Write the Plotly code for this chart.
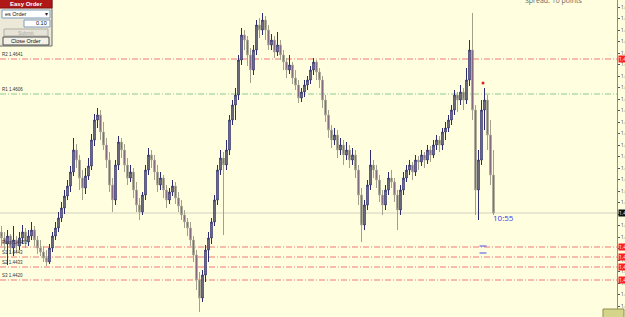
import plotly.graph_objects as go

# ---- data (prices) ----
opens = [1.4468,1.4462,1.4456,1.4464,1.4452,1.4460,1.4454,1.4462,1.4468,1.4458,
1.4464,1.4470,1.4460,1.4452,1.4448,1.4442,1.4438,1.4452,1.4464,1.4472,
1.4482,1.4492,1.4504,1.4514,1.4528,1.4550,1.4540,1.4522,1.4512,1.4524,
1.4534,1.4560,1.4580,1.4585,1.4568,1.4555,1.4540,1.4515,1.4500,1.4535,
1.4558,1.4550,1.4535,1.4522,1.4528,1.4510,1.4495,1.4488,1.4505,1.4530,
1.4545,1.4540,1.4528,1.4515,1.4522,1.4510,1.4500,1.4508,1.4514,1.4502,
1.4494,1.4485,1.4478,1.4472,1.4460,1.4445,1.4420,1.4402,1.4425,1.4450,
1.4462,1.4478,1.4500,1.4530,1.4542,1.4535,1.4550,1.4580,1.4595,1.4605,
1.4640,1.4665,1.4660,1.4645,1.4630,1.4650,1.4675,1.4670,1.4680,1.4670,
1.4655,1.4660,1.4648,1.4655,1.4645,1.4638,1.4630,1.4635,1.4622,1.4615,
1.4602,1.4608,1.4615,1.4620,1.4630,1.4638,1.4628,1.4620,1.4600,1.4585,
1.4570,1.4560,1.4565,1.4550,1.4555,1.4545,1.4550,1.4540,1.4545,1.4530,
1.4505,1.4475,1.4495,1.4515,1.4535,1.4530,1.4520,1.4505,1.4495,1.4510,
1.4522,1.4518,1.4505,1.4490,1.4510,1.4522,1.4530,1.4535,1.4528,1.4540,
1.4538,1.4545,1.4540,1.4550,1.4545,1.4555,1.4560,1.4555,1.4568,1.4572,
1.4580,1.4590,1.4605,1.4600,1.4608,1.4600,1.4620,1.4650,1.4590,1.4510,
1.4540,1.4590,1.4600,1.4565,1.4525]
highs = [1.4474,1.4468,1.4470,1.4466,1.4474,1.4464,1.4468,1.4475,1.4472,1.4470,
1.4478,1.4474,1.4464,1.4460,1.4454,1.4450,1.4456,1.4468,1.4478,1.4488,
1.4498,1.4510,1.4520,1.4534,1.4562,1.4556,1.4545,1.4530,1.4532,1.4542,
1.4566,1.4586,1.4592,1.4590,1.4578,1.4562,1.4548,1.4522,1.4540,1.4564,
1.4562,1.4556,1.4542,1.4535,1.4532,1.4518,1.4502,1.4508,1.4535,1.4552,
1.4550,1.4545,1.4535,1.4528,1.4525,1.4515,1.4512,1.4520,1.4518,1.4508,
1.4500,1.4490,1.4482,1.4478,1.4464,1.4450,1.4428,1.4430,1.4455,1.4468,
1.4482,1.4505,1.4535,1.4550,1.4548,1.4560,1.4585,1.4600,1.4612,1.4645,
1.4672,1.4670,1.4664,1.4652,1.4655,1.4680,1.4682,1.4687,1.4684,1.4675,
1.4666,1.4664,1.4668,1.4660,1.4650,1.4642,1.4645,1.4638,1.4630,1.4620,
1.4612,1.4620,1.4624,1.4634,1.4642,1.4640,1.4632,1.4624,1.4605,1.4590,
1.4575,1.4572,1.4570,1.4562,1.4560,1.4558,1.4555,1.4552,1.4550,1.4535,
1.4512,1.4500,1.4520,1.4550,1.4540,1.4535,1.4525,1.4510,1.4515,1.4528,
1.4530,1.4522,1.4510,1.4515,1.4528,1.4535,1.4540,1.4538,1.4545,1.4544,
1.4550,1.4548,1.4555,1.4554,1.4560,1.4565,1.4564,1.4572,1.4578,1.4585,
1.4595,1.4610,1.4608,1.4615,1.4612,1.4632,1.4660,1.4687,1.4595,1.4550,
1.4600,1.4612,1.4605,1.4580,1.4550]
lows = [1.4454,1.4450,1.4435,1.4446,1.4444,1.4448,1.4450,1.4456,1.4452,1.4454,
1.4460,1.4454,1.4446,1.4444,1.4438,1.4434,1.4436,1.4448,1.4460,1.4468,
1.4478,1.4486,1.4500,1.4508,1.4524,1.4532,1.4510,1.4500,1.4506,1.4520,
1.4530,1.4554,1.4572,1.4560,1.4550,1.4532,1.4508,1.4488,1.4495,1.4530,
1.4542,1.4528,1.4515,1.4518,1.4502,1.4488,1.4480,1.4485,1.4500,1.4525,
1.4532,1.4520,1.4508,1.4510,1.4502,1.4492,1.4496,1.4504,1.4496,1.4488,
1.4480,1.4472,1.4464,1.4454,1.4438,1.4410,1.4388,1.4398,1.4418,1.4438,
1.4456,1.4474,1.4495,1.4525,1.4465,1.4530,1.4545,1.4575,1.4580,1.4600,
1.4635,1.4650,1.4634,1.4617,1.4625,1.4645,1.4662,1.4665,1.4660,1.4650,
1.4650,1.4642,1.4644,1.4640,1.4630,1.4622,1.4626,1.4616,1.4610,1.4597,
1.4598,1.4603,1.4610,1.4616,1.4625,1.4620,1.4612,1.4592,1.4578,1.4562,
1.4552,1.4555,1.4542,1.4545,1.4535,1.4540,1.4532,1.4535,1.4522,1.4495,
1.4458,1.4470,1.4490,1.4510,1.4522,1.4512,1.4498,1.4485,1.4490,1.4505,
1.4512,1.4498,1.4470,1.4485,1.4505,1.4518,1.4525,1.4520,1.4524,1.4530,
1.4534,1.4532,1.4536,1.4538,1.4542,1.4550,1.4548,1.4550,1.4560,1.4568,
1.4575,1.4585,1.4588,1.4595,1.4590,1.4596,1.4614,1.4580,1.4485,1.4480,
1.4535,1.4570,1.4550,1.4515,1.4485]
closes = [1.4462,1.4456,1.4464,1.4452,1.4460,1.4454,1.4462,1.4468,1.4458,1.4464,
1.4470,1.4460,1.4452,1.4448,1.4442,1.4438,1.4452,1.4464,1.4472,1.4482,
1.4492,1.4504,1.4514,1.4528,1.4550,1.4540,1.4522,1.4512,1.4524,1.4534,
1.4560,1.4580,1.4585,1.4568,1.4555,1.4540,1.4515,1.4500,1.4535,1.4558,
1.4550,1.4535,1.4522,1.4528,1.4510,1.4495,1.4488,1.4505,1.4530,1.4545,
1.4540,1.4528,1.4515,1.4522,1.4510,1.4500,1.4508,1.4514,1.4502,1.4494,
1.4485,1.4478,1.4472,1.4460,1.4445,1.4420,1.4402,1.4425,1.4450,1.4462,
1.4478,1.4500,1.4530,1.4542,1.4535,1.4550,1.4580,1.4595,1.4605,1.4640,
1.4665,1.4660,1.4645,1.4630,1.4650,1.4675,1.4670,1.4680,1.4670,1.4655,
1.4660,1.4648,1.4655,1.4645,1.4638,1.4630,1.4635,1.4622,1.4615,1.4602,
1.4608,1.4615,1.4620,1.4630,1.4638,1.4628,1.4620,1.4600,1.4585,1.4570,
1.4560,1.4565,1.4550,1.4555,1.4545,1.4550,1.4540,1.4545,1.4530,1.4505,
1.4475,1.4495,1.4515,1.4535,1.4530,1.4520,1.4505,1.4495,1.4510,1.4522,
1.4518,1.4505,1.4490,1.4510,1.4522,1.4530,1.4535,1.4528,1.4540,1.4538,
1.4545,1.4540,1.4550,1.4545,1.4555,1.4560,1.4555,1.4568,1.4572,1.4580,
1.4590,1.4605,1.4600,1.4608,1.4600,1.4620,1.4650,1.4590,1.4510,1.4540,
1.4590,1.4600,1.4565,1.4525,1.4487]
bars = list(range(len(closes)))

# pivot levels
level_names = ["R2", "R1", "Pivot", "S1", "S2", "S3"]
level_values = [1.4641, 1.4606, 1.4453, 1.4443, 1.4433, 1.4420]
level_colors = ["#f07878", "#8cc88c", "#f07878", "#f07878", "#f07878", "#f07878"]
bid_price = 1.4487

order_marks_x = [160.5, 160.5]
order_marks_y = [1.4454, 1.4447]
alert_x = [160.5]
alert_y = [1.4617]

BG = "#ffffe0"
PW, PH = 617.0, 317.0
def px(x): return x / PW
def py(y): return 1 - y / PH

fig = go.Figure()
fig.add_trace(go.Candlestick(
    x=bars, open=opens, high=highs, low=lows, close=closes,
    increasing=dict(line=dict(color="#2c2c6e", width=1), fillcolor="#a09f8b"),
    decreasing=dict(line=dict(color="#a2a18d", width=1), fillcolor="#6e3d7a"),
    whiskerwidth=0, showlegend=False, hoverinfo="skip"))
fig.add_trace(go.Scatter(x=order_marks_x, y=order_marks_y, mode="markers",
    marker=dict(symbol="line-ew", size=5, line=dict(color="#4a4af0", width=1)),
    showlegend=False, hoverinfo="skip"))
fig.add_trace(go.Scatter(x=alert_x, y=alert_y, mode="markers",
    marker=dict(symbol="circle", size=3, color="#e02020"),
    showlegend=False, hoverinfo="skip"))

shapes = []
annotations = []
for name, val, col in zip(level_names, level_values, level_colors):
    shapes.append(dict(type="line", xref="paper", yref="y", x0=0, x1=1, y0=val, y1=val,
                       line=dict(color=col, width=1, dash="6px,2px,1px,2px"), layer="below"))
    if col != "#8cc88c":
        annotations.append(dict(xref="paper", yref="y", x=1, y=val, xanchor="left", yanchor="middle",
                                xshift=1, text=f"{val:.4f}", showarrow=False,
                                font=dict(size=5, color="white"), bgcolor="#ff2020", borderpad=0))
    annotations.append(dict(xref="paper", yref="y", x=0, y=val, xanchor="left", yanchor="bottom",
                            text=f"{name} {val:.4f}", showarrow=False,
                            font=dict(size=4.5, color="#333333", family="Liberation Sans")))
shapes.append(dict(type="line", xref="paper", yref="y", x0=0, x1=1, y0=bid_price, y1=bid_price,
                   line=dict(color="#d2d2c0", width=1), layer="below"))
annotations.append(dict(xref="paper", yref="y", x=1, y=bid_price, xanchor="left", yanchor="middle",
                        xshift=1, text=f"{bid_price:.4f}", showarrow=False,
                        font=dict(size=5, color="white"), bgcolor="#111111", borderpad=0))

# order panel
def rect(x0, y0, x1, y1, fill, line="#8a8a8a", lw=1):
    shapes.append(dict(type="rect", xref="paper", yref="paper", x0=px(x0), x1=px(x1),
                       y0=py(y1), y1=py(y0), fillcolor=fill, line=dict(color=line, width=lw), layer="above"))
def label(x, y, text, size=5.5, color="#111111", anchor="center", bold=False):
    annotations.append(dict(xref="paper", yref="paper", x=px(x), y=py(y), xanchor=anchor,
                            yanchor="middle", text=("<b>%s</b>" % text) if bold else text,
                            showarrow=False, font=dict(size=size, color=color, family="Liberation Sans")))
rect(-2, -2, 52, 46, "#ece9d8", "#6a6a6a")
rect(-2, -2, 52, 8, "#b01818", "#801010")
label(26, 3.5, "Easy Order", 6, "white", bold=True)
rect(2, 10, 50, 18, "#ffffff", "#7f9db9")
label(3, 14, "es Order", 5.5, "#111111", anchor="left")
label(46, 14, "▾", 6, "#222222")
rect(24, 20, 50, 27, "#ffffff", "#7f9db9")
label(49, 23.5, "0.10", 5.5, "#111111", anchor="right")
rect(4, 29, 48, 36, "#e6e4d8", "#b0b0a0")
label(26, 32.5, "Submit", 5, "#a8a8a8")
rect(3, 37, 49, 45, "#f4f2e8", "#4a4a4a")
label(26, 41, "Close Order", 5.5, "#111111")

# misc texts
annotations.append(dict(xref="paper", yref="paper", x=px(585), y=1, xanchor="right", yanchor="middle",
                        text="Spread: 10 points", showarrow=False, font=dict(size=7, color="#666666")))
annotations.append(dict(xref="paper", yref="paper", x=px(503), y=py(217), xanchor="center", yanchor="middle",
                        text="10:55", showarrow=False, font=dict(size=8, color="#3a3af0")))
shapes.append(dict(type="rect", xref="paper", yref="paper", x0=px(603), x1=px(624), y0=py(320), y1=py(309),
                   fillcolor="#d4d48a", line=dict(color="#8f8f4a", width=1), layer="above"))

fig.update_layout(
    width=625, height=317, margin=dict(l=0, r=8, t=0, b=0),
    paper_bgcolor=BG, plot_bgcolor=BG, showlegend=False,
    shapes=shapes, annotations=annotations,
    xaxis=dict(range=[-0.5, 205.1667], visible=False, rangeslider=dict(visible=False), fixedrange=True),
    yaxis=dict(side="right", range=[1.4383, 1.4700], tick0=1.4693, dtick=0.00115, tickformat=".4f",
               ticks="outside", ticklen=2, tickcolor="#555555", showline=True, linecolor="#8c8c8c",
               linewidth=1, showgrid=False, zeroline=False, automargin=False, ticklabelstandoff=0,
               tickfont=dict(size=4.5, color="#333333"), fixedrange=True),
)
fig.write_html("out.html")
